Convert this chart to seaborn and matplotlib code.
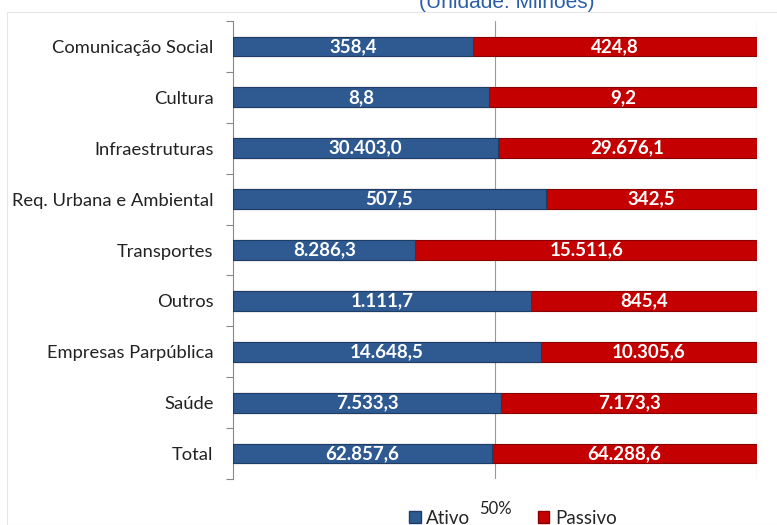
import matplotlib
matplotlib.use("Agg")
import matplotlib.pyplot as plt
import seaborn as sns
import pandas as pd
import numpy as np
from matplotlib.patches import Rectangle, Patch

categories = ["Comunicação Social", "Cultura", "Infraestruturas", "Req. Urbana e Ambiental",
              "Transportes", "Outros", "Empresas Parpública", "Saúde", "Total"]
ativo = [358.4, 8.8, 30403.0, 507.5, 8286.3, 1111.7, 14648.5, 7533.3, 62857.6]
passivo = [424.8, 9.2, 29676.1, 342.5, 15511.6, 845.4, 10305.6, 7173.3, 64288.6]

sns.set_theme(style="white")
plt.rcParams['font.family'] = ['Lato', 'DejaVu Sans']

def fmt(v):
    s = f"{v:,.1f}"
    return s.replace(",", "X").replace(".", ",").replace("X", ".")

tot = np.array(ativo) + np.array(passivo)
df = pd.DataFrame({
    "cat": categories,
    "ativo_frac": np.array(ativo) / tot,
    "total_frac": np.ones(len(categories)),
})

W, H = 777, 525
fig = plt.figure(figsize=(W / 100, H / 100), dpi=100)
fig.patches.append(Rectangle((7 / W, 0), 1, 1 - 12 / H, transform=fig.transFigure,
                             fill=False, edgecolor="#e6e6e6", linewidth=0.8))
ax = fig.add_axes([233 / W, 1 - 479 / H, (757 - 233) / W, (479 - 21) / H])

blue = "#2e5a91"
red = "#c40000"
sns.barplot(data=df, y="cat", x="total_frac", color=red, saturation=1, width=0.39,
            orient="h", ax=ax, edgecolor="#8a0000", linewidth=0.8, zorder=3)
sns.barplot(data=df, y="cat", x="ativo_frac", color=blue, saturation=1, width=0.39,
            orient="h", ax=ax, edgecolor="#1e3d66", linewidth=0.8, zorder=4)

for i in range(len(categories)):
    fa = df["ativo_frac"][i]
    ax.text(fa / 2, i, fmt(ativo[i]), ha="center", va="center", color="white",
            fontsize=13.5, fontweight="bold", zorder=5)
    ax.text(fa + (1 - fa) / 2, i, fmt(passivo[i]), ha="center", va="center", color="white",
            fontsize=13.5, fontweight="bold", zorder=5)

ax.set_xlim(0, 1)
ax.set_ylim(len(categories) - 0.5, -0.5)
ax.set_xlabel("")
ax.set_ylabel("")
for sp in ["top", "right", "bottom"]:
    ax.spines[sp].set_visible(False)
ax.spines["left"].set_color("#888888")
ax.spines["left"].set_linewidth(0.8)
ax.axvline(0.5, color="#9a9a9a", linewidth=0.8, zorder=1)
ax.axvline(1.0, color="#9a9a9a", linewidth=0.8, zorder=1)

ax.set_yticks(np.arange(len(categories)))
ax.set_yticklabels(categories, fontsize=13.2, color="#222222")
ax.tick_params(axis="y", which="major", left=False, length=0, pad=14)
ax.set_yticks(np.arange(-0.5, len(categories)), minor=True)
ax.tick_params(axis="y", which="minor", left=True, length=5, color="#888888",
               width=0.8, direction="out")

ax.set_xticks([0.5])
ax.set_xticklabels(["50%"], fontsize=12, color="#222222")
ax.tick_params(axis="x", length=0, pad=16)

handles = [Patch(facecolor=blue, edgecolor="#1e3d66", label="Ativo"),
           Patch(facecolor=red, edgecolor="#8a0000", label="Passivo")]
fig.legend(handles=handles, loc="center", bbox_to_anchor=(513 / W, 1 - 518 / H), ncol=2,
           frameon=False, fontsize=13.5, handlelength=0.6, handleheight=0.6,
           handletextpad=0.3, columnspacing=3.6, borderpad=0, borderaxespad=0)

fig.text(507 / W, 1 - 3 / H, "(Unidade: Milhões)", ha="center", va="center",
         fontsize=15, color="#2a5fa8", family="Liberation Sans")

fig.savefig("out.png", dpi=100)
